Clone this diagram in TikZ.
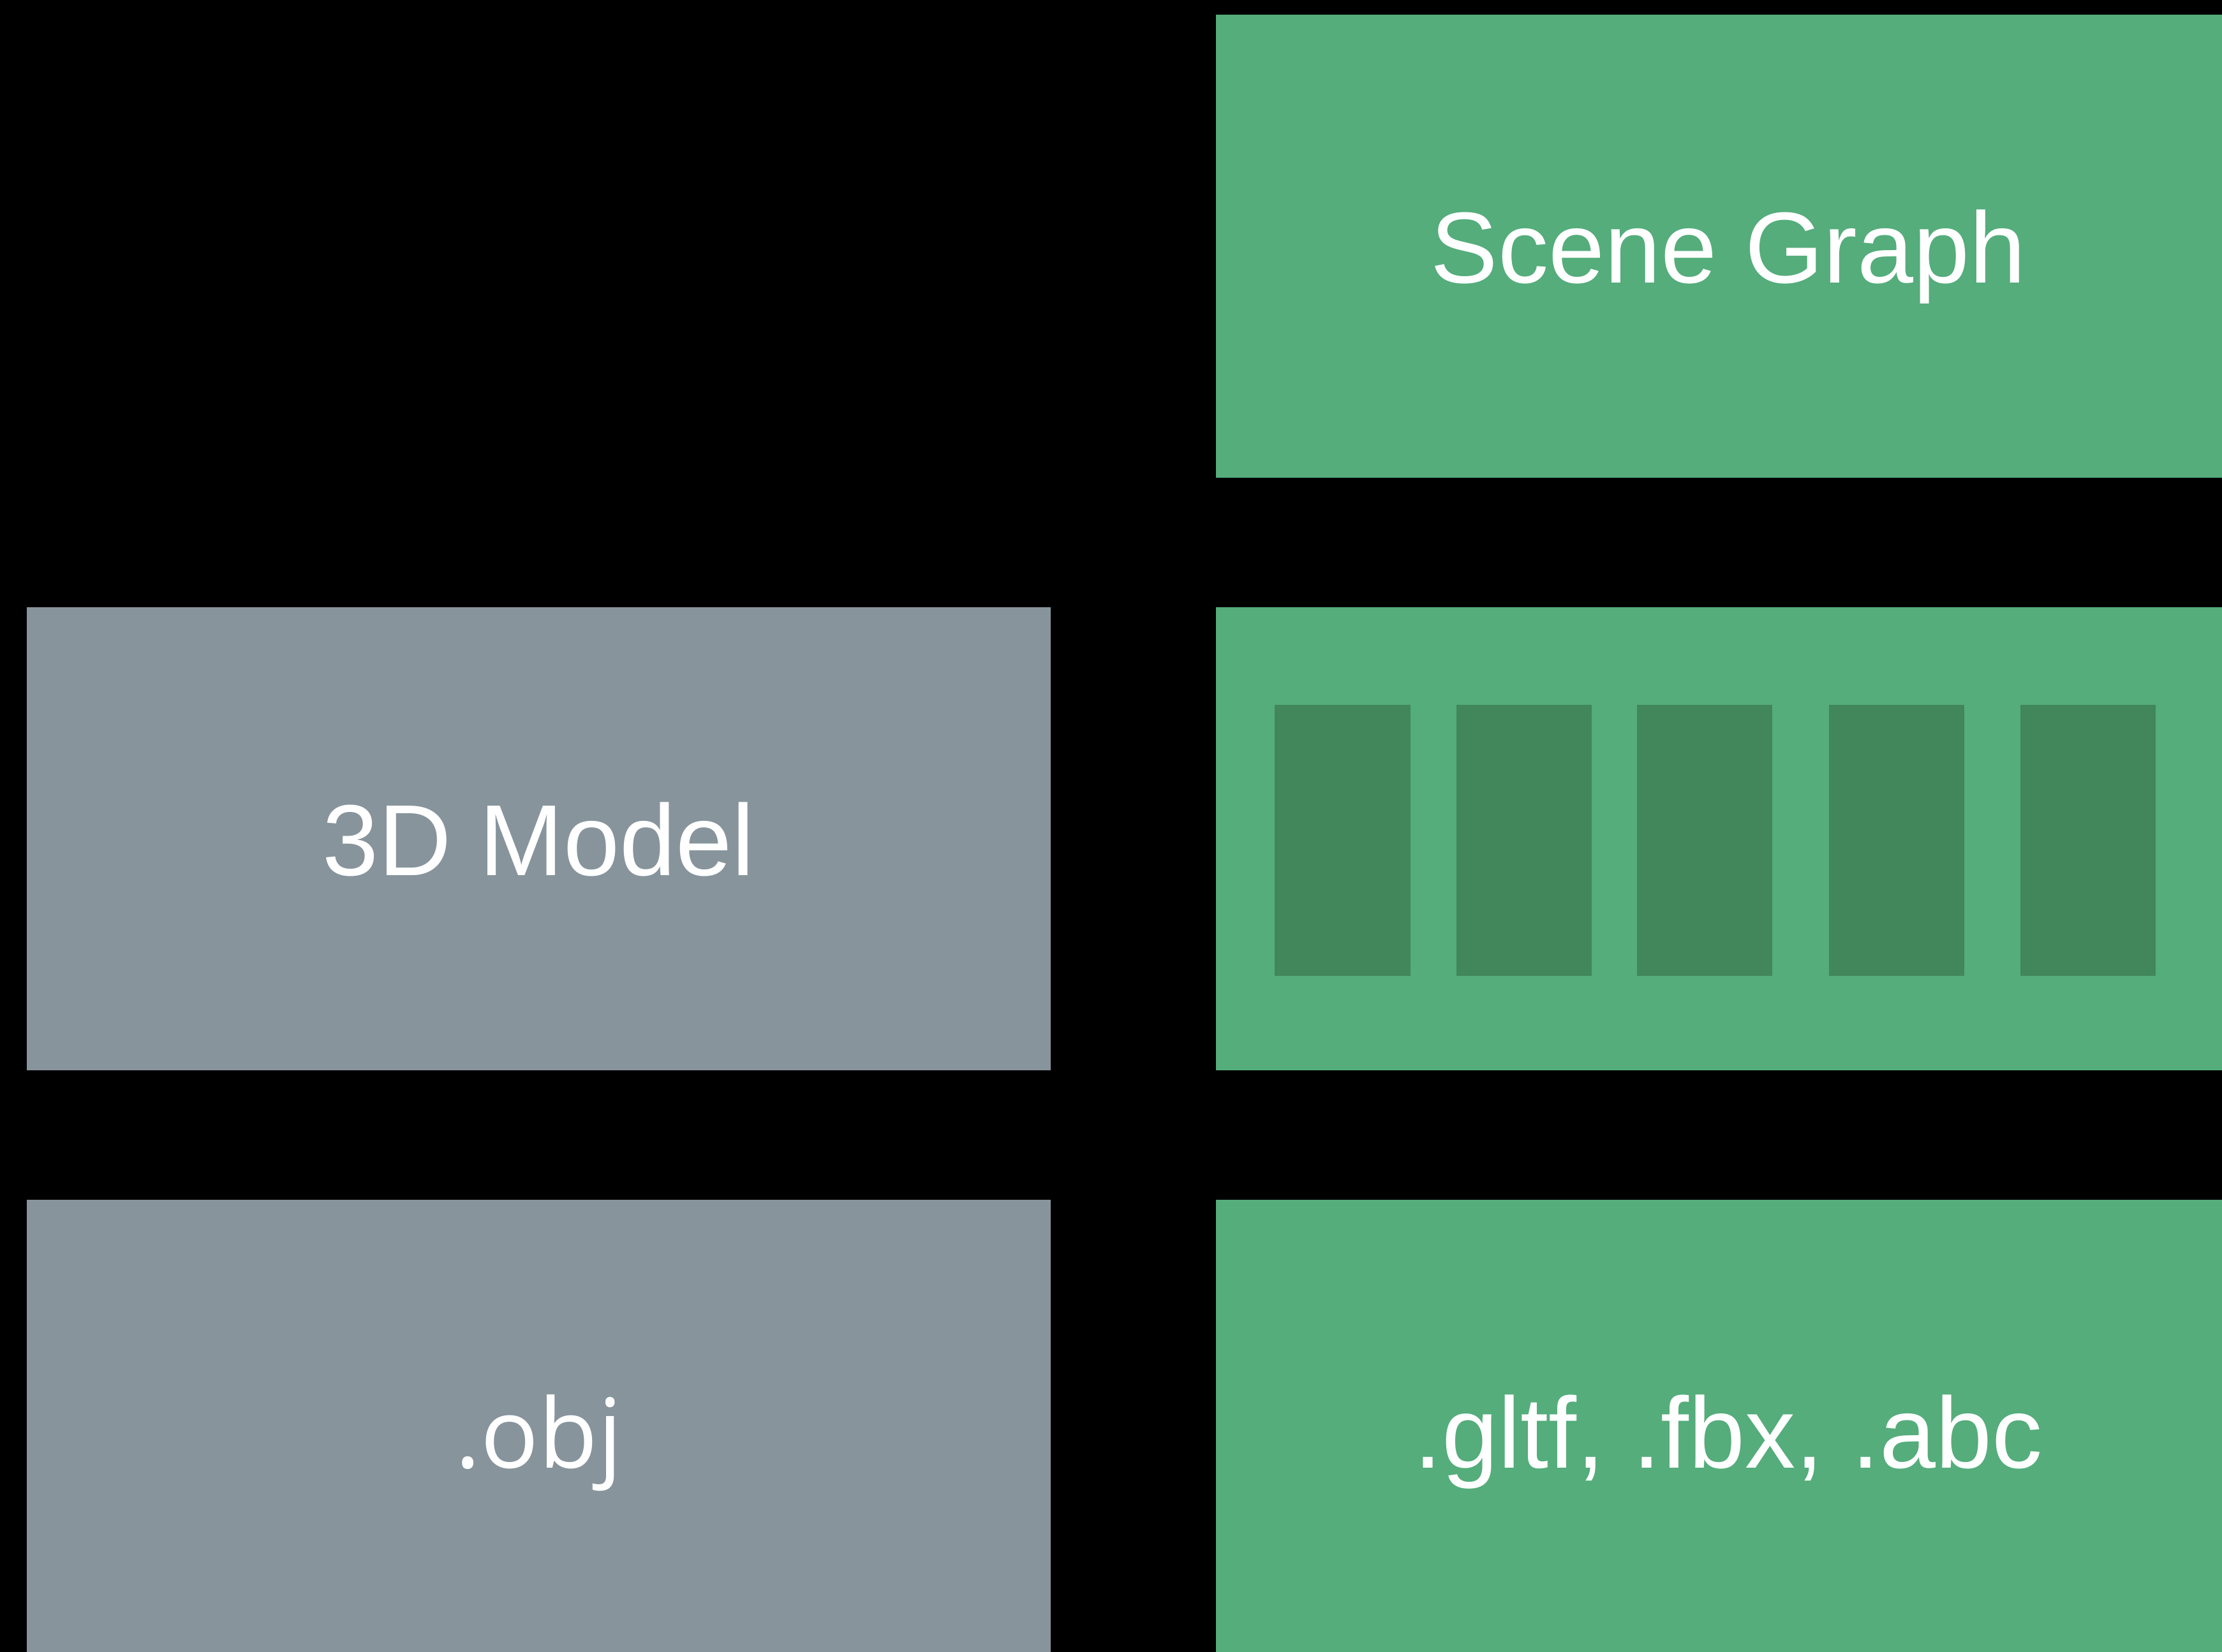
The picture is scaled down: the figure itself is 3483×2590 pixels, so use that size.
\documentclass[tikz,border=0pt]{standalone}
\usepackage{fontspec}
\setmainfont{Liberation Sans}
\newfontfamily\objfont{Open Sans}
\usepackage{tikz}
\usetikzlibrary{positioning}
\usepackage{xcolor}

\definecolor{sgGreen}{HTML}{54AD7B}
\definecolor{sgDark}{HTML}{41875B}
\definecolor{mdGray}{HTML}{87949C}

\begin{document}
\begin{tikzpicture}[
		x=0.01cm, y=-0.01cm,
		node distance=2.01cm and 2.57cm,
		box/.style={rectangle, inner sep=0pt, minimum width=16.05cm, minimum height=7.26cm,
			text=white, font=\fontsize{45}{54}\selectfont, text height=1.15cm, text depth=0pt},
		graybox/.style={box, fill=mdGray},
		greenbox/.style={box, fill=sgGreen},
		slot/.style={rectangle, fill=sgDark, inner sep=0pt, minimum width=2.12cm, minimum height=4.25cm}
		]
		
		% Canvas
		\clip (0,0) rectangle (3483,2590);
		\fill[black] (0,0) rectangle (3483,2590);
		
		% Nodes
		\node[graybox] (model) at (844.5,1315) {3D Model};
		\node[greenbox, right=of model] (nodes) {};
		\node[greenbox, above=of nodes] (scenegraph) {Scene Graph};
		\node[graybox, below=of model] (obj) {\objfont\fontsize{43}{52}\selectfont .obj};
		\node[greenbox, below=of nodes] (formats) {.gltf, .fbx, .abc};
		
		% Scene graph entries
		\foreach \dx in {1.99,4.83,7.66,10.67,13.67}
			\node[slot] at ([xshift=\dx cm, yshift=-0.025cm]nodes.west) {};
	\end{tikzpicture}
\end{document}
